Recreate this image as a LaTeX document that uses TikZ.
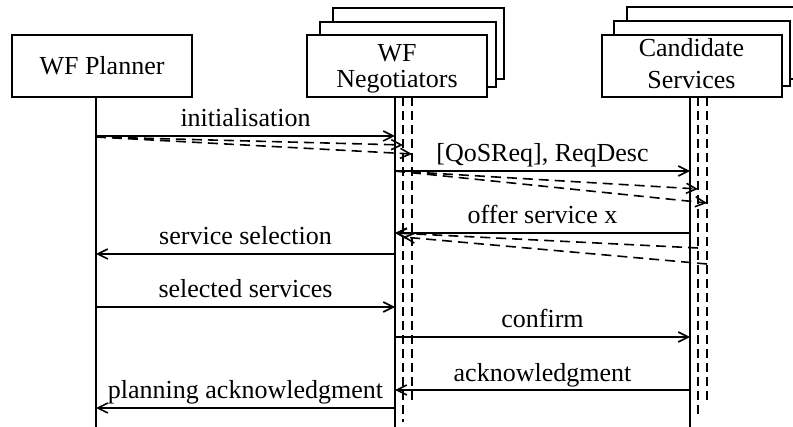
\documentclass[tikz,border=0pt]{standalone}
\usepackage{fontspec}
\setmainfont{Liberation Serif}
\usetikzlibrary{arrows.meta}
\tikzset{%
actor/.style={draw,fill=white,line width=1pt,minimum width=90pt,minimum height=31pt,align=center,inner sep=1pt},
backbox/.style={draw,fill=white,line width=1pt},
lifeline/.style={line width=1pt},
copyline/.style={line width=1pt,dash pattern=on 4.5pt off 2.5pt},
msg/.style={line width=0.8pt,-{Straight Barb[length=5pt,width=5pt]}},
copymsg/.style={msg,dash pattern=on 5pt off 3pt},
msglabel/.style={anchor=base,yshift=4.5pt,inner sep=0pt}
}

\begin{document}
\begin{tikzpicture}[x=0.5pt,y=-0.5pt,font=\fontsize{13}{13}\selectfont]

  \useasboundingbox (0,0) rectangle (793,427);
  \clip (0,0) rectangle (793,427);

  % stacked boxes behind the multiple actors
  \draw[backbox] (333,8) rectangle (504,79);
  \draw[backbox] (320,22) rectangle (496,87);
  \draw[backbox] (627,7) rectangle (810,79);
  \draw[backbox] (614,21) rectangle (790,86);

  \node[actor] (planner) at (102,66) {WF Planner};
  \node[actor,text depth=0pt] (negotiators) at (397,66) {WF\\Negotiators};
  \node[actor,text depth=3pt] (candidates) at (691.5,66) {Candidate\\[3pt]Services};

  % lifelines
  \coordinate (plan) at (96,97);
  \coordinate (nego) at (395,97);
  \coordinate (negoA) at (403,97);
  \coordinate (negoB) at (412,97);
  \coordinate (cand) at (690,97);
  \coordinate (candA) at (698,97);
  \coordinate (candB) at (707,97);

  \foreach \n/\y in {bottom/427,endA/422,endB/402,endC/417,
    init/136,initS/137,initA/145,initB/154,
    req/171,reqA/189,reqB/203,
    offer/233,offerA/248,offerB/264,offerC/237,
    sel/254,chosen/307,conf/337,ack/390,pack/408}
    \coordinate (\n) at (0,\y);

  \draw[lifeline] (plan) -- (plan |- bottom);
  \draw[lifeline] (nego) -- (nego |- bottom);
  \draw[lifeline] (cand) -- (cand |- bottom);
  \draw[copyline] (negoA) -- (negoA |- endA);
  \draw[copyline] (negoB) -- (negoB |- endB);
  \draw[copyline] (candA) -- (candA |- endC);
  \draw[copyline] (candB) -- (candB |- endB);

  % messages
  \draw[msg] (plan |- init) -- node[msglabel] {initialisation} (nego |- init);
  \draw[copymsg] (plan |- initS) -- (negoA |- initA);
  \draw[copymsg] (plan |- initS) -- (negoB |- initB);

  \draw[msg] (nego |- req) -- node[msglabel] {[QoSReq], ReqDesc} (cand |- req);
  \draw[copymsg] (nego |- req) -- (candA |- reqA);
  \draw[copymsg] (nego |- req) -- (candB |- reqB);

  \draw[msg] (cand |- offer) -- node[msglabel] {offer service x} (nego |- offer);
  \draw[copymsg] (candA |- offerA) -- (nego |- offer);
  \draw[copymsg] (candB |- offerB) -- (negoA |- offerC);

  \draw[msg] (nego |- sel) -- node[msglabel] {service selection} (plan |- sel);
  \draw[msg] (plan |- chosen) -- node[msglabel] {selected services} (nego |- chosen);
  \draw[msg] (nego |- conf) -- node[msglabel] {confirm} (cand |- conf);
  \draw[msg] (cand |- ack) -- node[msglabel] {acknowledgment} (nego |- ack);
  \draw[msg] (nego |- pack) -- node[msglabel] {planning acknowledgment} (plan |- pack);

\end{tikzpicture}
\end{document}
